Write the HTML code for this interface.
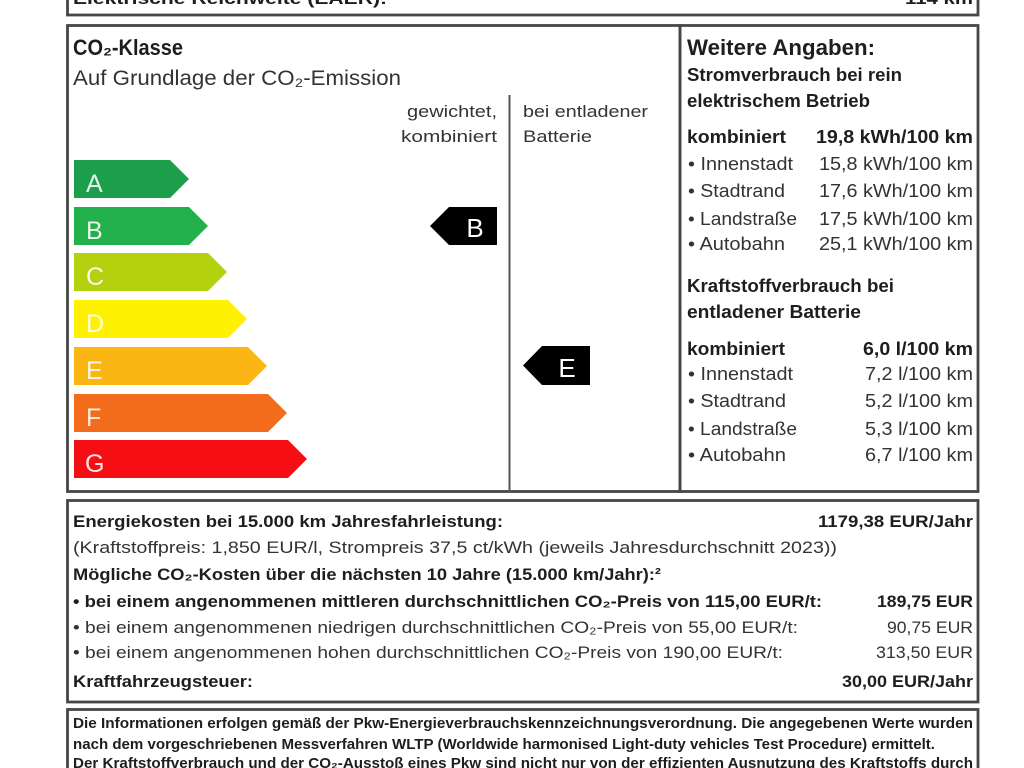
<!DOCTYPE html>
<html>
<head>
<meta charset="utf-8">
<style>
html,body{margin:0;padding:0;background:#fff;width:1024px;height:768px;overflow:hidden;}
svg{display:block;}
text{font-family:"Liberation Sans",sans-serif;fill:#1e1e1e;}
.b{font-weight:bold;}
.r{fill:#333;}
.lt{fill:#ffffff;fill-opacity:0.88;font-size:25px;}
.wt{fill:#fff;font-size:26px;}
</style>
</head>
<body>
<svg width="1024" height="768" viewBox="0 0 1024 768" xmlns="http://www.w3.org/2000/svg">
<rect x="0" y="0" width="1024" height="768" fill="#fff"/>

<!-- top box -->
<rect x="67.5" y="-20" width="910.5" height="35" fill="none" stroke="#464646" stroke-width="2.8"/>
<text class="b" x="73" y="4" font-size="17" textLength="314" lengthAdjust="spacingAndGlyphs">Elektrische Reichweite (EAER):</text>
<text class="b" x="905" y="4" font-size="17" textLength="68" lengthAdjust="spacingAndGlyphs">114 km</text>

<!-- main boxes -->
<rect x="67.5" y="25.5" width="612.5" height="466" fill="none" stroke="#464646" stroke-width="2.8"/>
<rect x="680" y="25.5" width="298" height="466" fill="none" stroke="#464646" stroke-width="2.8"/>
<line x1="509.5" y1="95" x2="509.5" y2="492" stroke="#555" stroke-width="2"/>

<text class="b" x="73" y="55" font-size="22" textLength="110" lengthAdjust="spacingAndGlyphs">CO₂-Klasse</text>
<text class="r" x="73" y="85" font-size="21" textLength="328" lengthAdjust="spacingAndGlyphs">Auf Grundlage der CO₂-Emission</text>
<text class="r" x="407" y="117" font-size="17" textLength="90" lengthAdjust="spacingAndGlyphs">gewichtet,</text>
<text class="r" x="401" y="142" font-size="17" textLength="96" lengthAdjust="spacingAndGlyphs">kombiniert</text>
<text class="r" x="523" y="117" font-size="17" textLength="125" lengthAdjust="spacingAndGlyphs">bei entladener</text>
<text class="r" x="523" y="142" font-size="17" textLength="69" lengthAdjust="spacingAndGlyphs">Batterie</text>

<!-- energy bars -->
<polygon points="74,160 170,160 189,179 170,198 74,198" fill="#1c9e4b"/>
<polygon points="74,207 189,207 208,226 189,245 74,245" fill="#22b14c"/>
<polygon points="74,253 208,253 227,272 208,291 74,291" fill="#b4d10f"/>
<polygon points="74,300 228,300 247,319 228,338 74,338" fill="#fff200"/>
<polygon points="74,347 248,347 267,366 248,385 74,385" fill="#fcb614"/>
<polygon points="74,394 268,394 287,413 268,432 74,432" fill="#f26c1c"/>
<polygon points="74,440 288,440 307,459 288,478 74,478" fill="#f50f14"/>
<text class="lt" x="86" y="192">A</text>
<text class="lt" x="86" y="239">B</text>
<text class="lt" x="86" y="285">C</text>
<text class="lt" x="86" y="332">D</text>
<text class="lt" x="86" y="379">E</text>
<text class="lt" x="86" y="426">F</text>
<text class="lt" x="85" y="472">G</text>

<!-- black markers -->
<polygon points="430,226 449,207 497,207 497,245 449,245" fill="#000"/>
<text class="wt" x="475" y="237" text-anchor="middle">B</text>
<polygon points="523,365.5 542,346 590,346 590,385 542,385" fill="#000"/>
<text class="wt" x="567" y="377" text-anchor="middle">E</text>

<!-- right panel -->
<text class="b" x="687" y="55" font-size="22" textLength="188" lengthAdjust="spacingAndGlyphs">Weitere Angaben:</text>
<text class="b" x="687" y="81" font-size="18" textLength="215" lengthAdjust="spacingAndGlyphs">Stromverbrauch bei rein</text>
<text class="b" x="687" y="107" font-size="18" textLength="183" lengthAdjust="spacingAndGlyphs">elektrischem Betrieb</text>

<text class="b" x="687" y="143" font-size="18" textLength="99" lengthAdjust="spacingAndGlyphs">kombiniert</text>
<text class="b" x="816" y="143" font-size="18" textLength="157" lengthAdjust="spacingAndGlyphs">19,8 kWh/100 km</text>
<text class="r" x="688" y="170" font-size="18" textLength="105" lengthAdjust="spacingAndGlyphs">• Innenstadt</text>
<text class="r" x="819" y="170" font-size="18" textLength="154" lengthAdjust="spacingAndGlyphs">15,8 kWh/100 km</text>
<text class="r" x="688" y="197" font-size="18" textLength="97" lengthAdjust="spacingAndGlyphs">• Stadtrand</text>
<text class="r" x="819" y="197" font-size="18" textLength="154" lengthAdjust="spacingAndGlyphs">17,6 kWh/100 km</text>
<text class="r" x="688" y="225" font-size="18" textLength="109" lengthAdjust="spacingAndGlyphs">• Landstraße</text>
<text class="r" x="819" y="225" font-size="18" textLength="154" lengthAdjust="spacingAndGlyphs">17,5 kWh/100 km</text>
<text class="r" x="688" y="250" font-size="18" textLength="97" lengthAdjust="spacingAndGlyphs">• Autobahn</text>
<text class="r" x="819" y="250" font-size="18" textLength="154" lengthAdjust="spacingAndGlyphs">25,1 kWh/100 km</text>

<text class="b" x="687" y="292" font-size="18" textLength="207" lengthAdjust="spacingAndGlyphs">Kraftstoffverbrauch bei</text>
<text class="b" x="687" y="318" font-size="18" textLength="174" lengthAdjust="spacingAndGlyphs">entladener Batterie</text>
<text class="b" x="687" y="355" font-size="18" textLength="98" lengthAdjust="spacingAndGlyphs">kombiniert</text>
<text class="b" x="863" y="355" font-size="18" textLength="110" lengthAdjust="spacingAndGlyphs">6,0 l/100 km</text>
<text class="r" x="688" y="380" font-size="18" textLength="105" lengthAdjust="spacingAndGlyphs">• Innenstadt</text>
<text class="r" x="865" y="380" font-size="18" textLength="108" lengthAdjust="spacingAndGlyphs">7,2 l/100 km</text>
<text class="r" x="688" y="407" font-size="18" textLength="98" lengthAdjust="spacingAndGlyphs">• Stadtrand</text>
<text class="r" x="865" y="407" font-size="18" textLength="108" lengthAdjust="spacingAndGlyphs">5,2 l/100 km</text>
<text class="r" x="688" y="435" font-size="18" textLength="109" lengthAdjust="spacingAndGlyphs">• Landstraße</text>
<text class="r" x="865" y="435" font-size="18" textLength="108" lengthAdjust="spacingAndGlyphs">5,3 l/100 km</text>
<text class="r" x="688" y="461" font-size="18" textLength="98" lengthAdjust="spacingAndGlyphs">• Autobahn</text>
<text class="r" x="865" y="461" font-size="18" textLength="108" lengthAdjust="spacingAndGlyphs">6,7 l/100 km</text>

<!-- cost box -->
<rect x="67.5" y="500.5" width="910.5" height="201.5" fill="none" stroke="#464646" stroke-width="2.8"/>
<text class="b" x="73" y="527" font-size="17" textLength="430" lengthAdjust="spacingAndGlyphs">Energiekosten bei 15.000 km Jahresfahrleistung:</text>
<text class="b" x="818" y="527" font-size="17" textLength="155" lengthAdjust="spacingAndGlyphs">1179,38 EUR/Jahr</text>
<text class="r" x="73" y="553" font-size="17" textLength="764" lengthAdjust="spacingAndGlyphs">(Kraftstoffpreis: 1,850 EUR/l, Strompreis 37,5 ct/kWh (jeweils Jahresdurchschnitt 2023))</text>
<text class="b" x="73" y="580" font-size="17" textLength="588" lengthAdjust="spacingAndGlyphs">Mögliche CO₂-Kosten über die nächsten 10 Jahre (15.000 km/Jahr):²</text>
<text class="b" x="73" y="607" font-size="17" textLength="749" lengthAdjust="spacingAndGlyphs">• bei einem angenommenen mittleren durchschnittlichen CO₂-Preis von 115,00 EUR/t:</text>
<text class="b" x="877" y="607" font-size="17" textLength="96" lengthAdjust="spacingAndGlyphs">189,75 EUR</text>
<text class="r" x="73" y="633" font-size="17" textLength="725" lengthAdjust="spacingAndGlyphs">• bei einem angenommenen niedrigen durchschnittlichen CO₂-Preis von 55,00 EUR/t:</text>
<text class="r" x="887" y="633" font-size="17" textLength="86" lengthAdjust="spacingAndGlyphs">90,75 EUR</text>
<text class="r" x="73" y="658" font-size="17" textLength="710" lengthAdjust="spacingAndGlyphs">• bei einem angenommenen hohen durchschnittlichen CO₂-Preis von 190,00 EUR/t:</text>
<text class="r" x="876" y="658" font-size="17" textLength="97" lengthAdjust="spacingAndGlyphs">313,50 EUR</text>
<text class="b" x="73" y="687" font-size="17" textLength="180" lengthAdjust="spacingAndGlyphs">Kraftfahrzeugsteuer:</text>
<text class="b" x="842" y="687" font-size="17" textLength="131" lengthAdjust="spacingAndGlyphs">30,00 EUR/Jahr</text>

<!-- footer box -->
<rect x="67.5" y="709.5" width="910.5" height="80" fill="none" stroke="#464646" stroke-width="2.8"/>
<text class="b" x="73" y="728" font-size="15" textLength="900" lengthAdjust="spacingAndGlyphs">Die Informationen erfolgen gemäß der Pkw-Energieverbrauchskennzeichnungsverordnung. Die angegebenen Werte wurden</text>
<text class="b" x="73" y="749" font-size="15" textLength="862" lengthAdjust="spacingAndGlyphs">nach dem vorgeschriebenen Messverfahren WLTP (Worldwide harmonised Light-duty vehicles Test Procedure) ermittelt.</text>
<text class="b" x="73" y="768" font-size="15" textLength="900" lengthAdjust="spacingAndGlyphs">Der Kraftstoffverbrauch und der CO₂-Ausstoß eines Pkw sind nicht nur von der effizienten Ausnutzung des Kraftstoffs durch</text>
</svg>
</body>
</html>
